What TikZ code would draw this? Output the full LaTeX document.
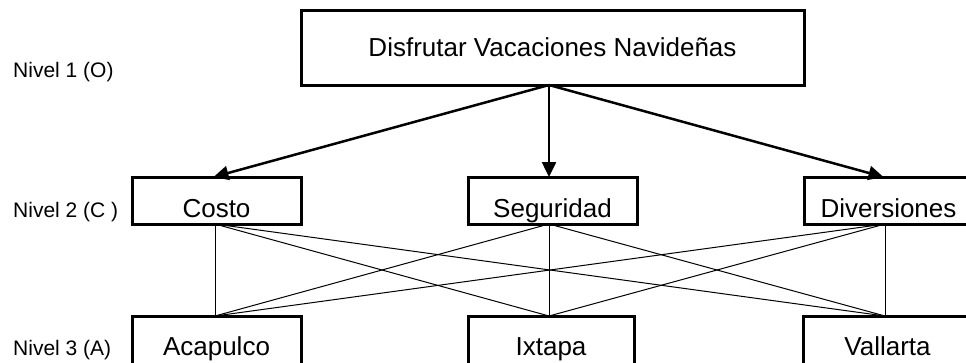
\documentclass[tikz,border=0pt]{standalone}
\usepackage{fontspec}
\setmainfont{Liberation Sans}
\usetikzlibrary{arrows.meta}
\begin{document}
\begin{tikzpicture}[x=1pt,y=-1pt,
  box/.style={draw=black,line width=3pt,inner sep=0pt,outer sep=0pt,
    font=\fontsize{26}{30}\selectfont,align=center},
  midbox/.style={box,minimum width=169pt,text height=40pt,text depth=7pt},
  lowbox/.style={box,minimum width=169pt,text height=39pt,text depth=10pt},
  lvl/.style={anchor=base west,inner sep=0pt,font=\fontsize{21}{25}\selectfont},
  arr/.style={line width=2.5pt,-{Triangle[length=15pt,width=14pt]}},
  thin/.style={line width=1pt}]
\useasboundingbox (0,0) rectangle (966,362);
\clip (0,0) rectangle (966,362);
% boxes
\node[box,minimum width=503pt,text height=46pt,text depth=29pt] (top) at (552.5,0) [anchor=north,yshift=-10pt] {Disfrutar Vacaciones Navideñas};
\node[midbox,anchor=north] (costo) at (216.5,177) {Costo};
\node[midbox,anchor=north] (seg) at (552.5,177) {Seguridad};
\node[midbox,anchor=north] (div) at (888.5,177) {Diversiones};
\node[lowbox,anchor=north] (aca) at (216.5,316) {Acapulco};
\node[lowbox,anchor=north,minimum width=166pt] (ixt) at (551,316) {Ixtapa};
\node[lowbox,anchor=north] (val) at (887.5,316) {Vallarta};
% level labels
\node[lvl] (l1) at (13,77) {Nivel 1 (O)};
\node[lvl] (l2) at (13,217) {Nivel 2 (C )};
\node[lvl] (l3) at (13,355) {Nivel 3 (A)};
% arrows
\coordinate (apex) at ([xshift=-3.5pt]top.south);
\draw[arr] (apex) -- ([xshift=-3pt]costo.north);
\draw[arr] (apex) -- ([xshift=-3.5pt]seg.north);
\draw[arr] (apex) -- ([xshift=-5pt]div.north);
% cross connections
\foreach \u/\us in {costo/-1.5,seg/-3.5,div/-3.5}{
  \foreach \v/\vs in {aca/-1.5,ixt/-2,val/-2.5}{
    \draw[thin] ([xshift=\us pt]\u.south) -- ([xshift=\vs pt]\v.north);
  }
}
\end{tikzpicture}
\end{document}
